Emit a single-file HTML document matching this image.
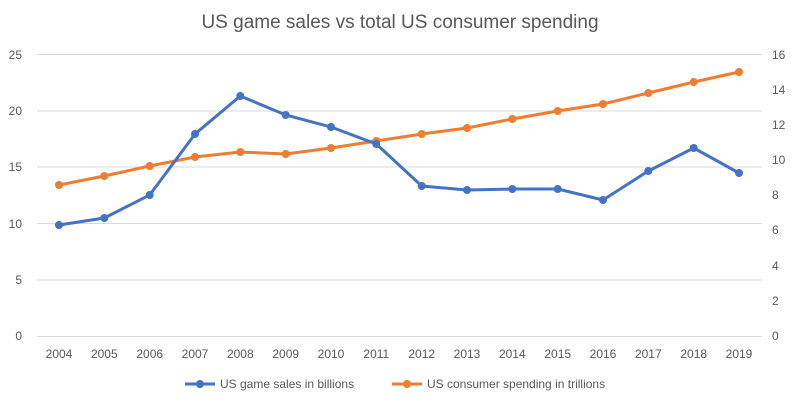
<!DOCTYPE html>
<html><head><meta charset="utf-8"><style>body{margin:0;background:#fff}svg{display:block}</style></head><body>
<svg width="800" height="406" xmlns="http://www.w3.org/2000/svg" font-family="Liberation Sans, sans-serif">
<rect width="800" height="406" fill="#fff"/>
<text x="400" y="28" text-anchor="middle" font-size="19" fill="#595959">US game sales vs total US consumer spending</text>
<g stroke="#d9d9d9" stroke-width="1">
<line x1="37" x2="762" y1="54.5" y2="54.5"/><line x1="37" x2="762" y1="111" y2="111"/><line x1="37" x2="762" y1="167" y2="167"/><line x1="37" x2="762" y1="223.5" y2="223.5"/><line x1="37" x2="762" y1="280" y2="280"/><line x1="37" x2="762" y1="336.5" y2="336.5"/>
</g>
<g font-size="12" fill="#595959" text-anchor="end">
<text x="22" y="59">25</text><text x="22" y="115">20</text><text x="22" y="171">15</text><text x="22" y="228">10</text><text x="22" y="284">5</text><text x="22" y="340">0</text>
</g>
<g font-size="12" fill="#595959" text-anchor="start">
<text x="772" y="59">16</text><text x="772" y="94">14</text><text x="772" y="129">12</text><text x="772" y="164">10</text><text x="772" y="199">8</text><text x="772" y="234">6</text><text x="772" y="270">4</text><text x="772" y="305">2</text><text x="772" y="340">0</text>
</g>
<g font-size="12" fill="#595959" text-anchor="middle">
<text x="59" y="358">2004</text><text x="104.3" y="358">2005</text><text x="149.7" y="358">2006</text><text x="195" y="358">2007</text><text x="240.3" y="358">2008</text><text x="285.7" y="358">2009</text><text x="331" y="358">2010</text><text x="376.3" y="358">2011</text><text x="421.7" y="358">2012</text><text x="467" y="358">2013</text><text x="512.3" y="358">2014</text><text x="557.7" y="358">2015</text><text x="603" y="358">2016</text><text x="648.3" y="358">2017</text><text x="693.7" y="358">2018</text><text x="739" y="358">2019</text>
</g>
<polyline fill="none" stroke="#ed7d31" stroke-width="3" points="59,185 104.3,176 149.7,166 195,157 240.3,152 285.7,154 331,148 376.3,141 421.7,134 467,128 512.3,119 557.7,111 603,104 648.3,93 693.7,82 739,72"/>
<g fill="#ed7d31">
<circle cx="59" cy="185" r="4"/><circle cx="104.3" cy="176" r="4"/><circle cx="149.7" cy="166" r="4"/><circle cx="195" cy="157" r="4"/><circle cx="240.3" cy="152" r="4"/><circle cx="285.7" cy="154" r="4"/><circle cx="331" cy="148" r="4"/><circle cx="376.3" cy="141" r="4"/><circle cx="421.7" cy="134" r="4"/><circle cx="467" cy="128" r="4"/><circle cx="512.3" cy="119" r="4"/><circle cx="557.7" cy="111" r="4"/><circle cx="603" cy="104" r="4"/><circle cx="648.3" cy="93" r="4"/><circle cx="693.7" cy="82" r="4"/><circle cx="739" cy="72" r="4"/>
</g>
<polyline fill="none" stroke="#4472c4" stroke-width="3" points="59,225 104.3,218 149.7,195 195,134 240.3,96 285.7,115 331,127 376.3,144 421.7,186 467,190 512.3,189 557.7,189 603,200 648.3,171 693.7,148 739,173"/>
<g fill="#4472c4">
<circle cx="59" cy="225" r="4"/><circle cx="104.3" cy="218" r="4"/><circle cx="149.7" cy="195" r="4"/><circle cx="195" cy="134" r="4"/><circle cx="240.3" cy="96" r="4"/><circle cx="285.7" cy="115" r="4"/><circle cx="331" cy="127" r="4"/><circle cx="376.3" cy="144" r="4"/><circle cx="421.7" cy="186" r="4"/><circle cx="467" cy="190" r="4"/><circle cx="512.3" cy="189" r="4"/><circle cx="557.7" cy="189" r="4"/><circle cx="603" cy="200" r="4"/><circle cx="648.3" cy="171" r="4"/><circle cx="693.7" cy="148" r="4"/><circle cx="739" cy="173" r="4"/>
</g>
<line x1="185" x2="215" y1="384" y2="384" stroke="#4472c4" stroke-width="3"/><circle cx="200" cy="384" r="4" fill="#4472c4"/>
<text x="220" y="388" font-size="12" fill="#595959">US game sales in billions</text>
<line x1="392" x2="422" y1="384" y2="384" stroke="#ed7d31" stroke-width="3"/><circle cx="407" cy="384" r="4" fill="#ed7d31"/>
<text x="427" y="388" font-size="12" fill="#595959">US consumer spending in trillions</text>
</svg>
</body></html>
